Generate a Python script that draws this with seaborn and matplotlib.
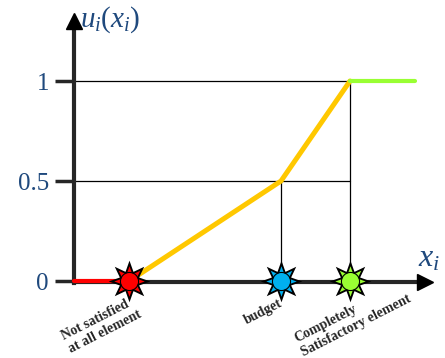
import numpy as np
import pandas as pd
import seaborn as sns
import matplotlib.pyplot as plt

# utility levels and their tick labels
levels = [0, 0.5, 1]
level_labels = ['0', '0.5', '1']

# key points on the x axis
point_names = ['Not satisfied\nat all element', 'budget', 'Completely\nSatisfactory element']
point_x = [2.0, 7.5, 10.0]
point_colors = ['#FF0000', '#00B0F0', '#99FF33']

# utility curve pieces
red_x, red_u = [0.0, 2.0], [0, 0]
mid_x, mid_u = [2.0, 7.5, 10.0], [0, 0.5, 1]
green_x, green_u = [10.0, 12.35], [1, 1]
x_end = 12.72
u_top = 1.3

sns.set_style('white')
plt.rcParams['font.family'] = ['Liberation Serif', 'DejaVu Serif']
plt.rcParams['mathtext.fontset'] = 'custom'
plt.rcParams['mathtext.it'] = 'Liberation Serif:italic'
plt.rcParams['mathtext.rm'] = 'Liberation Serif'
navy = '#1F497D'

fig = plt.figure(figsize=(4.45, 3.58), dpi=100)
ax = fig.add_axes([0, 0, 1, 1])
ax.set_xlim(-2.681, 13.442)
ax.set_ylim(-0.385, 1.405)

# guide lines
for lv, xe in [(1, point_x[2]), (0.5, point_x[2])]:
    ax.plot([0, xe], [lv, lv], color='black', lw=0.9, zorder=1)
ax.plot([point_x[1], point_x[1]], [0, 0.5], color='black', lw=0.9, zorder=1)
ax.plot([point_x[2], point_x[2]], [0, 1], color='black', lw=0.9, zorder=1)

# axes as spines through the origin
for side in ['top', 'right']:
    ax.spines[side].set_visible(False)
ax.spines['left'].set_position(('data', 0))
ax.spines['bottom'].set_position(('data', -0.005))
ax.spines['left'].set_bounds(-0.01, u_top - 0.03)
ax.spines['bottom'].set_bounds(0, x_end - 0.3)
ax.spines['left'].set_linewidth(3)
ax.spines['bottom'].set_linewidth(3)
ax.set_xticks([])
ax.set_yticks(levels)
ax.set_yticklabels(level_labels)
ax.tick_params(axis='y', direction='out', length=14, width=2.5, pad=4,
               labelsize=18, labelcolor=navy, left=True)
ax.plot(0, u_top, marker='^', ms=11, color='black', clip_on=False, zorder=4)
ax.plot(x_end, -0.005, marker='>', ms=11, color='black', clip_on=False, zorder=4)

# utility curve
sns.lineplot(x=red_x, y=red_u, color='#FF0000', lw=3, ax=ax, zorder=3)
sns.lineplot(x=mid_x, y=mid_u, color='#FFC800', lw=3.6, ax=ax, zorder=3)
sns.lineplot(x=green_x, y=green_u, color='#99FF33', lw=3, ax=ax, zorder=3)

# star markers
pts = pd.DataFrame({'x': point_x, 'u': [0, 0, 0]})
sns.scatterplot(data=pts, x='x', y='u', marker=(8, 1, 0), s=900, color='black',
                linewidth=0, ax=ax, zorder=5, legend=False)
for xv, c in zip(point_x, point_colors):
    sns.scatterplot(x=[xv], y=[0], marker=(8, 1, 0), s=480, color=c,
                    linewidth=0, ax=ax, zorder=6, legend=False)
    sns.scatterplot(x=[xv], y=[0], marker='o', s=170, color=c,
                    edgecolor='black', linewidth=0.8, ax=ax, zorder=7, legend=False)
ax.set_xlabel('')
ax.set_ylabel('')

# labels under the points
offsets = [(-20, -32), (-13, -22), (2, -27)]
for name, xv, off in zip(point_names, point_x, offsets):
    ax.annotate(name, xy=(xv, 0), xytext=off, textcoords='offset points',
                rotation=27, ha='center', va='center', rotation_mode='anchor',
                multialignment='left', fontsize=10, fontweight='bold',
                linespacing=1.2)

# axis titles
ax.text(0.22, 1.305, r'$\mathit{u_i(x_i)}$', fontsize=21, color=navy, ha='left', va='center')
ax.text(12.46, 0.11, r'$x_i$', fontsize=23, color=navy, ha='left', va='center')

fig.savefig('out.png', dpi=100)
